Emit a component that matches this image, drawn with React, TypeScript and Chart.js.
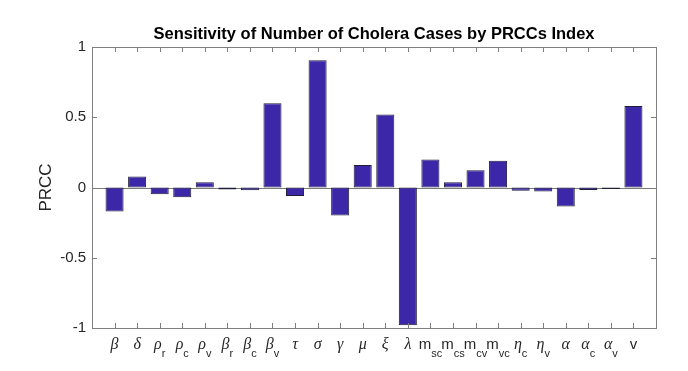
import React, { useEffect, useRef } from 'react';
import { Chart, registerables } from 'chart.js';

Chart.register(...registerables);

// ---- data ----
const labelMain = ['β', 'δ', 'ρ', 'ρ', 'ρ', 'β', 'β', 'β', 'τ', 'σ', 'γ', 'μ', 'ξ', 'λ', 'm', 'm', 'm', 'm', 'η', 'η', 'α', 'α', 'α', 'v'];
const labelSub = ['', '', 'r', 'c', 'v', 'r', 'c', 'v', '', '', '', '', '', '', 'sc', 'cs', 'cv', 'vc', 'c', 'v', '', 'c', 'v', ''];
const prccValues = [-0.17, 0.078, -0.048, -0.07, 0.038, -0.014, -0.019, 0.6, -0.06, 0.905, -0.2, 0.16, 0.52, -0.98, 0.2, 0.038, 0.123, 0.19, -0.024, -0.029, -0.135, -0.017, -0.01, 0.58];
const yTickValues = [-1, -0.5, 0, 0.5, 1];
const titleText = 'Sensitivity of Number of Cholera Cases by PRCCs Index';
const yTitle = 'PRCC';

const latin = new Set(['m', 'v']);

const decorPlugin = {
  id: 'matlabDecor',
  beforeDatasetsDraw(chart: any) {
    const { ctx, chartArea, scales } = chart;
    const y0 = scales.y.getPixelForValue(0);
    ctx.save();
    ctx.strokeStyle = '#7a7a7a';
    ctx.lineWidth = 1;
    ctx.beginPath();
    ctx.moveTo(chartArea.left, Math.round(y0) + 0.5);
    ctx.lineTo(chartArea.right, Math.round(y0) + 0.5);
    ctx.stroke();
    ctx.restore();
  },
  afterDraw(chart: any) {
    const { ctx, chartArea, scales } = chart;
    const { left, right, top, bottom } = chartArea;
    ctx.save();
    // box
    ctx.strokeStyle = '#7f7f7f';
    ctx.lineWidth = 1;
    ctx.strokeRect(Math.round(left) + 0.5, Math.round(top) + 0.5, Math.round(right - left), Math.round(bottom - top));
    // inward ticks
    ctx.beginPath();
    for (let i = 0; i < prccValues.length; i++) {
      const x = Math.round(scales.x.getPixelForValue(i + 1)) + 0.5;
      ctx.moveTo(x, top);
      ctx.lineTo(x, top + 5);
      ctx.moveTo(x, bottom);
      ctx.lineTo(x, bottom - 5);
    }
    for (const v of yTickValues) {
      const y = Math.round(scales.y.getPixelForValue(v)) + 0.5;
      ctx.moveTo(left, y);
      ctx.lineTo(left + 5, y);
      ctx.moveTo(right, y);
      ctx.lineTo(right - 5, y);
    }
    ctx.stroke();

    // x labels
    ctx.fillStyle = '#262626';
    ctx.textBaseline = 'alphabetic';
    ctx.textAlign = 'left';
    const greekFont = 'italic 16px "Liberation Serif", serif';
    const latinFont = '15px "Liberation Sans", Arial, sans-serif';
    const subFont = '11px "Liberation Sans", Arial, sans-serif';
    for (let i = 0; i < labelMain.length; i++) {
      const cx = scales.x.getPixelForValue(i + 1);
      const isLatin = latin.has(labelMain[i]);
      const mainFont = isLatin ? latinFont : greekFont;
      ctx.font = mainFont;
      const wMain = ctx.measureText(labelMain[i]).width;
      ctx.font = subFont;
      const wSub = labelSub[i] ? ctx.measureText(labelSub[i]).width : 0;
      const x0 = cx - (wMain + wSub) / 2;
      ctx.font = mainFont;
      ctx.fillText(labelMain[i], x0, bottom + 21);
      if (labelSub[i]) {
        ctx.font = subFont;
        ctx.fillText(labelSub[i], x0 + wMain, bottom + 29);
      }
    }

    // title
    ctx.fillStyle = '#000000';
    ctx.font = 'bold 16.5px "Liberation Sans", Arial, sans-serif';
    ctx.textAlign = 'center';
    ctx.fillText(titleText, (left + right) / 2, top - 8);

    // y title
    ctx.fillStyle = '#262626';
    ctx.font = '17px "Liberation Sans", Arial, sans-serif';
    ctx.translate(51, (top + bottom) / 2);
    ctx.rotate(-Math.PI / 2);
    ctx.textAlign = 'center';
    ctx.fillText(yTitle, 0, 0);
    ctx.restore();
  },
};

export default function App() {
  const ref = useRef<HTMLCanvasElement | null>(null);
  useEffect(() => {
    document.body.style.margin = '0';
    const canvas = ref.current;
    if (!canvas) return;
    const chart = new Chart(canvas, {
      type: 'bar',
      data: {
        datasets: [
          {
            data: prccValues.map((v, i) => ({ x: i + 1, y: v })),
            backgroundColor: '#3b27a8',
            borderColor: '#1e1e3a',
            borderWidth: 1,
            borderSkipped: false,
            barPercentage: 0.8,
            categoryPercentage: 1,
          },
        ],
      },
      options: {
        animation: false,
        responsive: false,
        maintainAspectRatio: false,
        layout: { padding: { left: 0, right: 32, top: 47, bottom: 43 } },
        plugins: { legend: { display: false }, tooltip: { enabled: false }, title: { display: false } },
        scales: {
          x: {
            type: 'linear',
            min: 0,
            max: 25,
            display: false,
            offset: false,
          },
          y: {
            min: -1,
            max: 1,
            afterFit: (s: any) => {
              s.width = 92;
            },
            afterBuildTicks: (s: any) => {
              s.ticks = yTickValues.map((v) => ({ value: v }));
            },
            grid: { display: false, drawTicks: false },
            border: { display: false },
            ticks: {
              padding: 6,
              color: '#262626',
              font: { family: '"Liberation Sans", Arial, sans-serif', size: 15 },
              callback: (v: any) => String(v),
            },
          },
        },
      },
      plugins: [decorPlugin],
    });
    return () => chart.destroy();
  }, []);
  return (
    <div style={{ width: 688, height: 371, background: '#fff' }}>
      <canvas ref={ref} width={688} height={371} style={{ display: 'block' }} />
    </div>
  );
}
